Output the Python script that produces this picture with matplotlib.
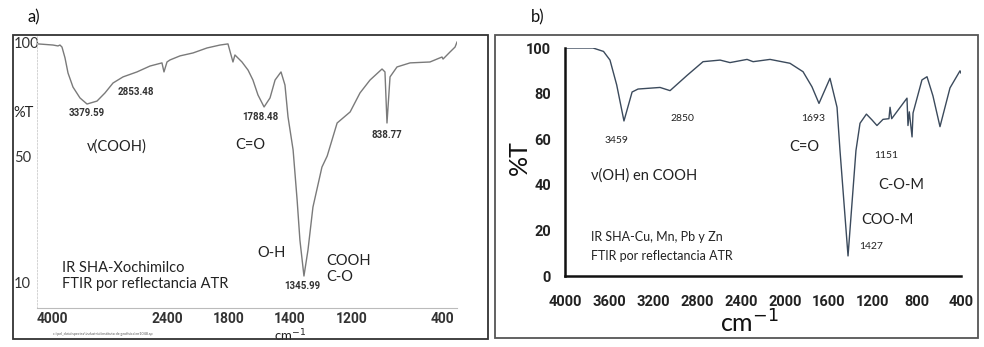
# FTIR spectra: a) SHA-Xochimilco, b) SHA with Cu, Mn, Pb and Zn
import numpy as np
import matplotlib
matplotlib.use("Agg")
import matplotlib.pyplot as plt
from matplotlib.patches import Rectangle
from matplotlib.ticker import FixedLocator

plt.rcParams['font.family'] = ['Lato', 'DejaVu Sans']
BOLD = ['Roboto', 'DejaVu Sans']

# panel a) spectrum (wavenumber cm-1, %T)
wn_a = [4187, 3986, 3917, 3889, 3861, 3819, 3777, 3708, 3611, 3513, 3374, 3263,
        3151, 3012, 2818, 2637, 2470, 2442, 2400, 2371, 2274, 2148, 2013, 1887,
        1810, 1774, 1761, 1715, 1675, 1643, 1610, 1570, 1531, 1498, 1459, 1433,
        1413, 1390, 1377, 1368, 1355, 1342, 1326, 1297, 1280, 1248, 1206, 1129,
        1040, 933, 907, 889, 862, 800, 684, 507, 444, 400, 391, 331, 287, 270]
t_a = [99.6, 99.1, 98.7, 99.1, 98.2, 93.4, 86.7, 80.5, 75.7, 73.0, 74.3, 77.9,
       82.3, 85.0, 87.2, 89.8, 91.2, 87.2, 91.6, 92.5, 94.3, 95.6, 97.8, 99.1,
       99.6, 91.6, 94.7, 91.6, 88.0, 83.6, 77.0, 71.7, 75.7, 83.6, 87.2, 81.4,
       67.3, 52.7, 36.1, 23.5, 12.2, 20.4, 33.9, 46.5, 50.0, 64.6, 69.5, 77.9,
       83.6, 88.5, 87.2, 64.6, 85.0, 89.4, 91.2, 91.6, 92.9, 93.8, 92.9, 96.0,
       98.2, 100.4]

# panel b) spectrum
wn_b = [4000, 3745, 3650, 3591, 3530, 3464, 3390, 3336, 3136, 3045, 2890, 2745,
        2590, 2500, 2345, 2290, 2136, 1955, 1836, 1755, 1691, 1591, 1527, 1500,
        1427, 1355, 1318, 1260, 1210, 1164, 1109, 1055, 1045, 1030, 891, 882,
        870, 845, 836, 755, 709, 655, 591, 500, 409, 400]
t_b = [100, 100, 98.5, 94.7, 83.8, 68.0, 80.7, 82.0, 82.7, 81.3, 88.0, 94.0,
       94.7, 93.6, 95.0, 94.0, 95.0, 93.3, 89.6, 83.0, 75.7, 86.7, 74.0, 55.0,
       8.8, 55.0, 67.0, 71.0, 68.5, 66.0, 68.7, 69.0, 74.0, 69.0, 78.0, 66.0,
       72.0, 61.0, 71.5, 86.0, 87.4, 79.0, 65.5, 82.5, 90.0, 89.0]

ticks_a_x = [4000, 2400, 1800, 1400, 1200, 400]
ticks_a_y = [100, 50, 10]
ticks_b_x = [4000, 3600, 3200, 2800, 2400, 2000, 1600, 1200, 800, 400]
ticks_b_y = [0, 20, 40, 60, 80, 100]

# the old instrument chart in a) has a piecewise (non linear) axis
WN_ANCH = np.array([4200, 4000, 2400, 1800, 1400, 1200, 400, 270])
WN_POS = np.array([37, 52, 167, 229, 290, 352, 442, 457])
T_ANCH = np.array([0, 10, 50, 100, 103])
T_POS = np.array([308, 283, 156, 43, 36])


def fx(w):
    return -np.interp(np.asarray(w, float), WN_ANCH[::-1], WN_POS[::-1])


def fx_inv(u):
    return np.interp(-np.asarray(u, float), WN_POS, WN_ANCH)


def fy(t):
    return -np.interp(np.asarray(t, float), T_ANCH, T_POS)


def fy_inv(u):
    return np.interp(-np.asarray(u, float), T_POS[::-1], T_ANCH[::-1])


W, H = 984, 347
fig = plt.figure(figsize=(9.84, 3.47), dpi=100)

# frames around both panels
fig.patches.append(Rectangle((13 / W, 8 / H), 475 / W, 304 / H, transform=fig.transFigure,
                             fill=False, ec='#333333', lw=1.3))
fig.patches.append(Rectangle((495 / W, 9 / H), 483 / W, 303 / H, transform=fig.transFigure,
                             fill=False, ec='#555555', lw=1.3))
fig.text(27 / W, 1 - 17 / H, 'a)', fontsize=12, va='center', color='#111111')
fig.text(531 / W, 1 - 17 / H, 'b)', fontsize=12, va='center', color='#111111')

# ---- panel a
ax = fig.add_axes([37 / W, 39 / H, 420 / W, 272 / H])
ax.set_xscale('function', functions=(fx, fx_inv))
ax.set_yscale('function', functions=(fy, fy_inv))
ax.plot(wn_a, t_a, color='#7a7a7a', lw=1.0)
ax.set_xlim(4200, 270)
ax.set_ylim(0, 103)
ax.xaxis.set_major_locator(FixedLocator(ticks_a_x))
ax.yaxis.set_major_locator(FixedLocator(ticks_a_y))
ax.xaxis.set_minor_locator(FixedLocator([]))
ax.yaxis.set_minor_locator(FixedLocator([]))
ax.set_xticklabels([str(v) for v in ticks_a_x], fontsize=10, fontweight='bold',
                   family=BOLD, color='#333333')
ax.set_yticklabels([str(v) for v in ticks_a_y], fontsize=10.5, color='#333333', ha='left')
ax.tick_params(axis='x', length=0, pad=3)
ax.tick_params(axis='y', length=0, pad=16.5)
for s in ['top', 'right']:
    ax.spines[s].set_visible(False)
ax.spines['bottom'].set_color('#bbbbbb')
ax.spines['bottom'].set_linewidth(0.8)
ax.spines['left'].set_color('#cccccc')
ax.spines['left'].set_linewidth(0.6)
ax.spines['left'].set_linestyle((0, (2, 2)))

num_a = dict(fontsize=7, fontweight='bold', family=BOLD, color='#333333',
             ha='center', va='center')
ax.text(3513, 69.0, '3379.59', **num_a)
ax.text(2832, 78.3, '2853.48', **num_a)
ax.text(1597, 67.3, '1788.48', **num_a)
ax.text(889, 59.3, '838.77', **num_a)
ax.text(1361, 8.8, '1345.99', **num_a)
lab_a = dict(fontsize=10.5, color='#222222', va='center')
ax.text(3096, 54.4, 'ν(COOH)', ha='center', **lab_a)
ax.text(1662, 54.9, 'C=O', ha='center', **lab_a)
ax.text(1518, 19.5, 'O-H', ha='center', **lab_a)
ax.text(1284, 16.9, 'COOH', ha='left', **lab_a)
ax.text(1284, 11.9, 'C-O', ha='left', **lab_a)
ax.text(3861, 14.7, 'IR SHA-Xochimilco', ha='left', **lab_a)
ax.text(3861, 9.6, 'FTIR por reflectancia ATR', ha='left', **lab_a)
ax.text(-0.033, 69.0, '%T', transform=ax.get_yaxis_transform(), fontsize=10.5,
        color='#222222', ha='center', va='center')
ax.text(0.602, -0.1, 'cm$^{-1}$', transform=ax.transAxes, fontsize=9.5,
        color='#222222', ha='center', va='center')
fig.text(53 / W, 1 - 334 / H, r'c:\pel_data\spectra\industria\instituto de geofisica\nr1048.sp',
         fontsize=2.6, color='#555555', va='center')

# ---- panel b
bx = fig.add_axes([565 / W, 71 / H, 396 / W, 228 / H])
bx.plot(wn_b, t_b, color='#3b4a5c', lw=1.0)
bx.set_xlim(4000, 400)
bx.set_ylim(0, 100)
bx.set_xticks(ticks_b_x)
bx.set_yticks(ticks_b_y)
bx.set_xticklabels([str(v) for v in ticks_b_x], fontsize=10.5, fontweight='bold',
                   family=BOLD, color='#222222')
bx.set_yticklabels([str(v) for v in ticks_b_y], fontsize=10.5, fontweight='bold',
                   family=BOLD, color='#222222')
bx.tick_params(axis='x', length=0, pad=14)
bx.tick_params(axis='y', length=0, pad=10)
for s in ['top', 'right']:
    bx.spines[s].set_visible(False)
for s in ['left', 'bottom']:
    bx.spines[s].set_linewidth(1.8)
    bx.spines[s].set_color('#111111')
bx.text(-0.116, 52, '%T', transform=bx.get_yaxis_transform(), fontsize=18,
        color='#111111', rotation=90, ha='center', va='center')
bx.text(0.465, -0.205, 'cm$^{-1}$', transform=bx.transAxes, fontsize=18,
        color='#111111', ha='center', va='center')

num_b = dict(fontsize=7.5, color='#222222', ha='center', va='center')
bx.text(3536, 59.6, '3459', **num_b)
bx.text(2936, 69.0, '2850', **num_b)
bx.text(1745, 69.0, '1693', **num_b)
bx.text(1082, 53.0, '1151', **num_b)
bx.text(1218, 13.0, '1427', **num_b)
lab_b = dict(fontsize=10.5, color='#222222', va='center')
bx.text(1827, 56.6, 'C=O', ha='center', **lab_b)
bx.text(945, 40.0, 'C-O-M', ha='center', **lab_b)
bx.text(1073, 24.6, 'COO-M', ha='center', **lab_b)
bx.text(3282, 44.0, 'ν(OH) en COOH', ha='center', **lab_b)
bx.text(3764, 17.0, 'IR SHA-Cu, Mn, Pb y Zn', ha='left', fontsize=9, color='#222222', va='center')
bx.text(3764, 8.8, 'FTIR por reflectancia ATR', ha='left', fontsize=9, color='#222222', va='center')

fig.savefig('out.png', dpi=100)
